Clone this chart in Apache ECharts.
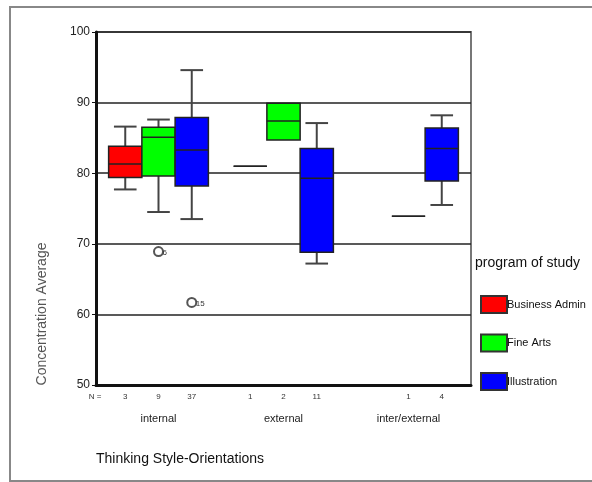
<!DOCTYPE html>
<html>
<head>
<meta charset="utf-8">
<script src="https://cdn.jsdelivr.net/npm/echarts@6/dist/echarts.min.js"></script>
<style>
  html, body { margin: 0; padding: 0; background: #fff; }
  #chart { width: 592px; height: 482px; }
</style>
</head>
<body>
<div id="chart"></div>
<script>
const categories = ['internal', 'external', 'inter/external'];
const programs = ['Business Admin', 'Fine Arts', 'Illustration'];
const colors = ['#ff0000', '#00ff00', '#0000ff'];

// [min, Q1, median, Q3, max] per category, null = no cases
const businessBoxes = [[77.7, 79.4, 81.3, 83.8, 86.6], [81.0, 81.0, 81.0, 81.0, 81.0], null];
const fineBoxes = [[74.5, 79.6, 85.1, 86.5, 87.6], [84.7, 84.7, 87.4, 89.9, 89.9], [73.9, 73.9, 73.9, 73.9, 73.9]];
const illustrationBoxes = [[73.5, 78.2, 83.3, 87.9, 94.6], [67.2, 68.8, 79.3, 83.5, 87.1], [75.5, 78.9, 83.5, 86.4, 88.2]];

const businessN = [3, 1, null];
const fineN = [9, 2, 1];
const illustrationN = [37, 11, 4];

// [category index, value, case number]
const businessOutliers = [];
const fineOutliers = [[0, 68.9, '6']];
const illustrationOutliers = [[0, 61.7, '15']];

const boxSets = [businessBoxes, fineBoxes, illustrationBoxes];
const nSets = [businessN, fineN, illustrationN];
const outlierSets = [businessOutliers, fineOutliers, illustrationOutliers];

const FONT = 'Arial, "Liberation Sans", sans-serif';

function seg (x1, y1, x2, y2, stroke, w) {
  return { type: 'line', shape: { x1, y1, x2, y2 }, style: { stroke, lineWidth: w } };
}

// each program keeps its own slot in the cluster: -1, 0, +1
function renderBox (params, api) {
  const cat = api.value(0);
  const bw = api.size([1, 0])[0] * 0.266;
  const cx = api.coord([cat, 50])[0] + api.value(6) * bw;
  const y = k => api.coord([cat, api.value(k)])[1];
  const yMin = y(1), yQ1 = y(2), yMed = y(3), yQ3 = y(4), yMax = y(5);
  const half = bw / 2, cap = bw * 0.34;
  const children = [];
  if (yMin - yQ1 > 0.5) {
    children.push(seg(cx, yQ1, cx, yMin, '#444', 2), seg(cx - cap, yMin, cx + cap, yMin, '#444', 2));
  }
  if (yQ3 - yMax > 0.5) {
    children.push(seg(cx, yQ3, cx, yMax, '#444', 2), seg(cx - cap, yMax, cx + cap, yMax, '#444', 2));
  }
  children.push({
    type: 'rect',
    shape: { x: cx - half, y: yQ3, width: bw, height: yQ1 - yQ3 },
    style: { fill: api.visual('color'), stroke: '#222', lineWidth: 1.5 }
  });
  children.push(seg(cx - half, yMed, cx + half, yMed, '#222', 1.5));
  children.push({
    type: 'text',
    style: {
      text: String(api.value(7)),
      x: cx,
      y: api.coord([cat, 50])[1] + 12,
      align: 'center',
      verticalAlign: 'middle',
      font: '8px ' + FONT,
      fill: '#333'
    }
  });
  return { type: 'group', children };
}

function renderOutlier (params, api) {
  const cat = api.value(0);
  const bw = api.size([1, 0])[0] * 0.266;
  const pt = api.coord([cat, api.value(1)]);
  const cx = pt[0] + api.value(2) * bw;
  return {
    type: 'group',
    children: [
      { type: 'circle', shape: { cx, cy: pt[1], r: 4.5 }, style: { fill: '#fff', stroke: '#555', lineWidth: 2 } },
      {
        type: 'text',
        style: { text: api.value(3), x: cx + 4, y: pt[1] + 1, verticalAlign: 'middle', font: '8px ' + FONT, fill: '#333' }
      }
    ]
  };
}

const boxSeries = programs.map((name, p) => ({
  name,
  type: 'custom',
  renderItem: renderBox,
  itemStyle: { color: colors[p], borderColor: '#333', borderWidth: 1.5 },
  encode: { x: 0, y: [1, 2, 3, 4, 5] },
  data: boxSets[p]
    .map((b, c) => (b ? [c].concat(b, [p - 1, nSets[p][c]]) : null))
    .filter(d => d)
}));

const outlierData = [];
outlierSets.forEach((set, p) => {
  set.forEach(o => outlierData.push([o[0], o[1], p - 1, o[2]]));
});

const option = {
  animation: false,
  backgroundColor: '#fff',
  textStyle: { fontFamily: FONT },
  title: [{
    text: 'Thinking Style-Orientations',
    left: 96,
    top: 452,
    padding: 0,
    textStyle: { fontSize: 14, fontWeight: 'normal', color: '#111', fontFamily: FONT }
  }, {
    text: 'program of study',
    left: 475,
    top: 256,
    padding: 0,
    textStyle: { fontSize: 14, fontWeight: 'normal', color: '#111', fontFamily: FONT }
  }],
  legend: {
    data: programs,
    orient: 'vertical',
    left: 480,
    top: 295,
    padding: 0,
    itemWidth: 26,
    itemHeight: 17,
    itemGap: 19.5,
    icon: 'rect',
    selectedMode: false,
    textStyle: { fontSize: 11, color: '#111', fontFamily: FONT, padding: [0, 0, 0, -5] }
  },
  grid: {
    left: 96,
    right: 121,
    top: 32,
    bottom: 97,
    show: true,
    borderColor: '#777',
    borderWidth: 2
  },
  xAxis: {
    type: 'category',
    data: categories,
    axisLine: { lineStyle: { color: '#111', width: 3 } },
    axisTick: { alignWithLabel: true, length: 3, lineStyle: { color: '#777' } },
    axisLabel: { margin: 28, fontSize: 11, color: '#222' },
    splitLine: { show: false }
  },
  yAxis: {
    type: 'value',
    min: 50,
    max: 100,
    interval: 10,
    axisLine: { show: true, lineStyle: { color: '#111', width: 3 } },
    axisTick: { show: true, length: 4, lineStyle: { color: '#111' } },
    axisLabel: { margin: 6, fontSize: 12, color: '#222' },
    splitLine: { lineStyle: { color: '#222', width: 1.5 } }
  },
  graphic: [
    {
      type: 'rect',
      shape: { x: 10, y: 7, width: 600, height: 474 },
      style: { fill: 'none', stroke: '#888', lineWidth: 2 },
      silent: true
    },
    {
      type: 'text',
      x: 42,
      y: 314,
      rotation: Math.PI / 2,
      style: {
        text: 'Concentration Average',
        align: 'center',
        verticalAlign: 'middle',
        font: '14px ' + FONT,
        fill: '#555'
      }
    },
    {
      type: 'text',
      x: 95,
      y: 397,
      style: { text: 'N =', align: 'center', verticalAlign: 'middle', font: '8px ' + FONT, fill: '#333' }
    }
  ],
  series: boxSeries.concat([{
    name: 'outliers',
    type: 'custom',
    renderItem: renderOutlier,
    encode: { x: 0, y: 1 },
    data: outlierData,
    z: 5
  }])
};

const chart = echarts.init(document.getElementById('chart'));
chart.setOption(option);
</script>
</body>
</html>
